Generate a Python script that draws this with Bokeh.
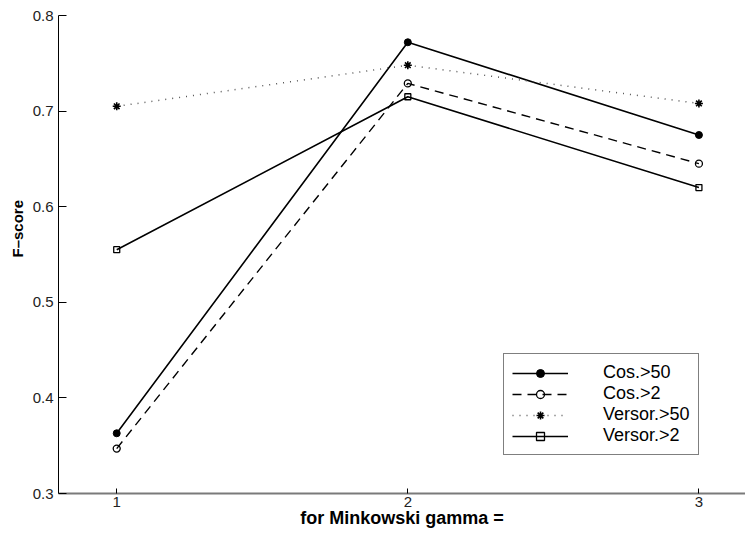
from bokeh.plotting import figure
from bokeh.models import FixedTicker, Range1d, Title
from bokeh.embed import file_html
from bokeh.resources import INLINE

# Minkowski gamma values on the x axis
gamma = [1, 2, 3]

# F-score per weighting scheme
cos_50 = [0.363, 0.772, 0.675]
cos_2 = [0.347, 0.729, 0.645]
versor_50 = [0.705, 0.748, 0.708]
versor_2 = [0.555, 0.715, 0.620]

x_ticks = [1, 2, 3]
y_ticks = [0.3, 0.4, 0.5, 0.6, 0.7, 0.8]

FONT = "Liberation Sans"

p = figure(
    width=745, height=536,
    x_range=Range1d(0.8, 3.16), y_range=Range1d(0.3, 0.8),
    output_backend="svg", toolbar_location=None,
    min_border_left=58, min_border_right=0,
    min_border_top=15, min_border_bottom=43,
)
p.outline_line_color = None
p.xgrid.visible = False
p.ygrid.visible = False
p.background_fill_color = "white"
p.border_fill_color = "white"

# series: solid with filled dots
p.line(gamma, cos_50, line_color="black", line_width=1.6, legend_label="Cos.>50")
p.scatter(gamma, cos_50, marker="circle", size=7, fill_color="black",
          line_color="black", legend_label="Cos.>50")

# series: dashed with open circles
p.line(gamma, cos_2, line_color="black", line_width=1.4, line_dash="9 6",
       legend_label="Cos.>2")
p.scatter(gamma, cos_2, marker="circle", size=7, fill_color=None,
          line_color="black", line_width=1.3, legend_label="Cos.>2")

# series: dotted with asterisks
p.line(gamma, versor_50, line_color="#555555", line_width=1.5, line_dash="1 6",
       legend_label="Versor.>50")
p.scatter(gamma, versor_50, marker="asterisk", size=8, line_color="black",
          line_width=1.6, legend_label="Versor.>50")

# series: solid with open squares
p.line(gamma, versor_2, line_color="black", line_width=1.6, legend_label="Versor.>2")
p.scatter(gamma, versor_2, marker="square", size=6, fill_color=None,
          line_color="black", line_width=1.3, legend_label="Versor.>2")

# x axis
xa = p.xaxis[0]
xa.ticker = FixedTicker(ticks=x_ticks)
xa.axis_label = "for Minkowski gamma ="
xa.axis_label_text_font = FONT
xa.axis_label_text_font_style = "bold"
xa.axis_label_text_font_size = "18px"
xa.axis_label_text_color = "black"
xa.axis_label_standoff = -2
xa.major_label_text_font = FONT
xa.major_label_text_font_size = "15px"
xa.major_label_text_color = "#222222"
xa.major_label_standoff = 3
xa.major_tick_in = 5
xa.major_tick_out = 0
xa.minor_tick_in = 0
xa.minor_tick_out = 0
xa.axis_line_color = "#7a7a7a"
xa.axis_line_width = 2
xa.major_tick_line_color = "black"

# y axis (its title sits above the centre, so it is placed as a side title)
ya = p.yaxis[0]
ya.ticker = FixedTicker(ticks=y_ticks)
ya.major_label_text_font = FONT
ya.major_label_text_font_size = "15px"
ya.major_label_text_color = "#222222"
ya.major_label_standoff = 5
ya.major_tick_in = 8
ya.major_tick_out = 0
ya.minor_tick_in = 0
ya.minor_tick_out = 0
ya.axis_line_color = "black"
ya.axis_line_width = 1
ya.major_tick_line_color = "black"

y_title = Title(text="F–score", align="left", offset=236, standoff=8,
                text_font=FONT, text_font_style="bold", text_font_size="15px",
                text_color="black")
p.add_layout(y_title, "left")

# legend box
lg = p.legend[0]
lg.location = (445, 38)
lg.margin = 0
lg.padding = 8
lg.spacing = 0
lg.glyph_width = 56
lg.glyph_height = 20
lg.label_height = 20
lg.label_standoff = 35
lg.label_text_font = FONT
lg.label_text_font_size = "18px"
lg.label_text_color = "black"
lg.border_line_color = "black"
lg.border_line_width = 1.5
lg.background_fill_color = "white"
lg.background_fill_alpha = 1.0

open("out.html", "w").write(file_html(p, INLINE))
